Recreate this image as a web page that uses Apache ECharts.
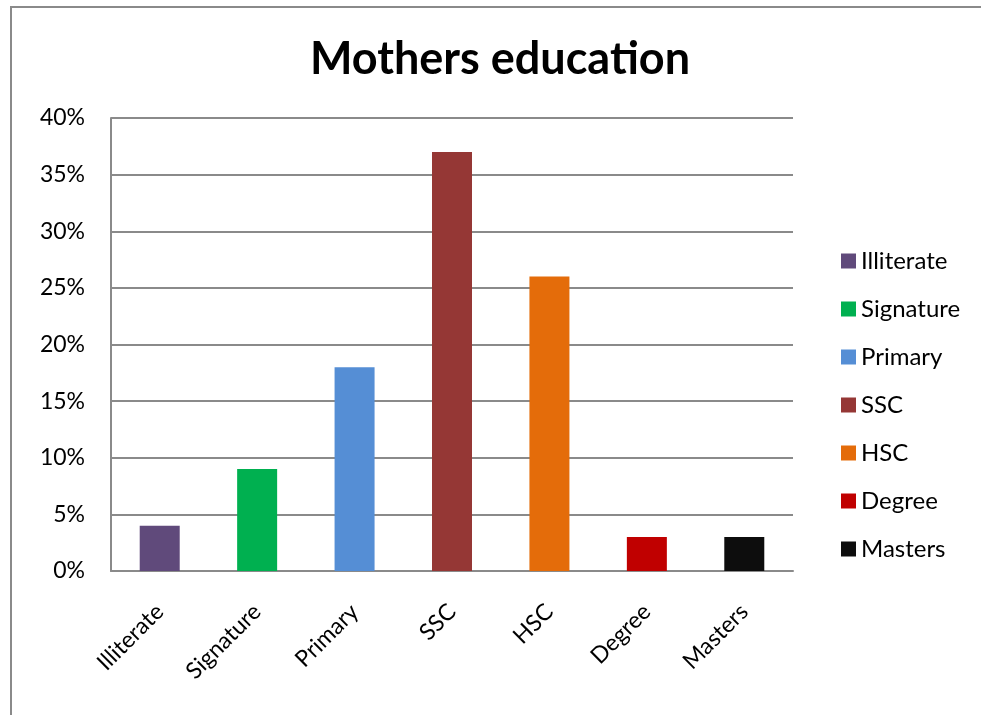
<!DOCTYPE html>
<html>
<head>
<meta charset="utf-8">
<script src="https://cdn.jsdelivr.net/npm/echarts@6/dist/echarts.min.js"></script>
<style>html,body{margin:0;padding:0;background:#fff}#c{width:981px;height:715px}</style>
</head>
<body>
<div id="c"></div>
<script>
var categories = ['Illiterate', 'Signature', 'Primary', 'SSC', 'HSC', 'Degree', 'Masters'];
var values = [4, 9, 18, 37, 26, 3, 3];
var colors = ['#604A7B', '#00B050', '#558ED5', '#953735', '#E46C0A', '#C00000', '#0D0D0D'];
var yTicks = [0, 5, 10, 15, 20, 25, 30, 35, 40];

var FONT = 'Lato';
var series = categories.map(function (name, i) {
  var d = categories.map(function (_, j) { return j === i ? values[i] : null; });
  return {
    name: name, type: 'bar', stack: 'all', data: d, barWidth: 40,
    itemStyle: { color: colors[i] }
  };
});

var chart = echarts.init(document.getElementById('c'));
chart.setOption({
  animation: false,
  backgroundColor: '#fff',
  textStyle: { fontFamily: FONT },
  title: {
    text: 'Mothers education', left: 495, top: 32, textAlign: 'center',
    textStyle: { fontFamily: FONT, fontSize: 45, fontWeight: 'bold', color: '#000' }
  },
  graphic: [{
    type: 'rect', shape: { x: 11, y: 7, width: 1100, height: 1000 },
    style: { fill: 'none', stroke: '#8a8a8a', lineWidth: 2 }, silent: true
  }],
  legend: {
    orient: 'vertical', left: 836, top: 244, itemWidth: 15, itemHeight: 15, itemGap: 24,
    icon: 'rect', data: categories,
    textStyle: { fontFamily: FONT, fontSize: 24, color: '#000' }
  },
  grid: { left: 111, right: 188, top: 118, bottom: 144, containLabel: false },
  xAxis: {
    type: 'category', data: categories,
    axisLine: { lineStyle: { color: '#8a8a8a', width: 2 } },
    axisTick: { show: false },
    axisLabel: { rotate: 45, fontSize: 23, color: '#000', margin: 37, fontFamily: FONT }
  },
  yAxis: {
    type: 'value', min: 0, max: 40, interval: 5,
    axisLine: { show: true, lineStyle: { color: '#8a8a8a', width: 2 } },
    axisTick: { show: false },
    splitLine: { lineStyle: { color: '#8a8a8a', width: 2 } },
    axisLabel: {
      fontSize: 23, color: '#000', margin: 26, fontFamily: FONT,
      formatter: function (v) { return yTicks.indexOf(v) >= 0 ? v + '%' : ''; }
    }
  },
  series: series
});
</script>
</body>
</html>
